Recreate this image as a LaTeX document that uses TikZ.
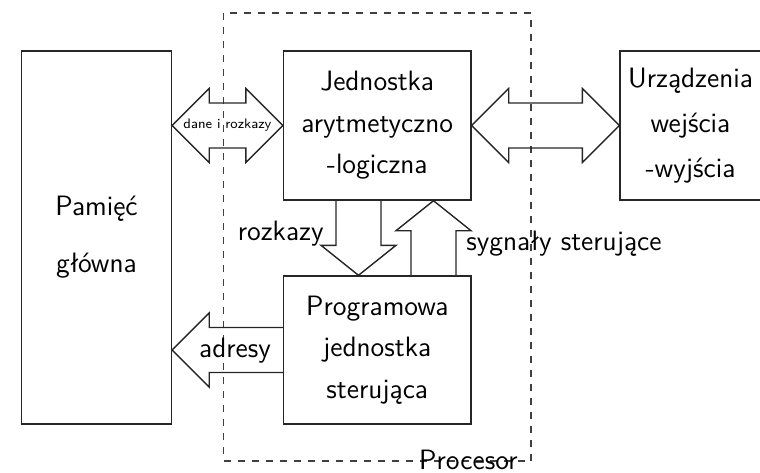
\documentclass[tikz,border=0pt]{standalone}
\usepackage{fontspec}
\usetikzlibrary{calc}

\tikzset{
  box/.style={draw, black!85, text=black, line width=0.7pt, align=center, inner sep=0pt},
  blk/.style={draw, black!85, line width=0.7pt, line join=miter},
  proc/.style={draw, black!75, line width=0.6pt, dash pattern=on 3.5pt off 3.5pt},
  lbl/.style={inner sep=0pt},
}

\begin{document}
\begin{tikzpicture}[x=0.5pt, y=-0.5pt, font=\sffamily\fontsize{14}{20.8}\selectfont]
    \useasboundingbox (0,0) rectangle (760,472);

    % bloki
    \node[box, minimum width=75pt, minimum height=186.5pt] (pam) at (96.5,237.5) {Pamięć\\[7.7pt]główna};
    \node[box, minimum width=93.75pt, minimum height=74.5pt] (alu) at (377.25,125.5) {Jednostka\\arytmetyczno\\-logiczna};
    \node[box, minimum width=93.75pt, minimum height=74pt] (ctl) at (377.25,350) {Programowa\\jednostka\\sterująca};
    \node[box, minimum width=70.5pt, minimum height=74.5pt] (io) at (690.5,125.5) {Urządzenia\\[1.7pt]wejścia\\[1.7pt]-wyjścia};

    \draw[proc] (223.5,13) rectangle (531,461);
    \node[lbl, anchor=base east] (procl) at (518,469.5) {Procesor};

    % dane i rozkazy
    \coordinate (d1) at (pam.east |- alu.west);
    \draw[blk] (d1) -- ($(d1)+(37,-37)$) -- ($(d1)+(37,-22.5)$) -- ($(alu.west)+(-37,-22.5)$) -- ($(alu.west)+(-37,-37)$) -- (alu.west)
        -- ($(alu.west)+(-37,37)$) -- ($(alu.west)+(-37,22.5)$) -- ($(d1)+(37,22.5)$) -- ($(d1)+(37,37)$) -- cycle;
    \node[lbl, font=\sffamily\fontsize{6.9}{8}\selectfont] (dane) at ($(d1)!0.5!(alu.west)$) {dane i rozkazy};

    % we/wy
    \draw[blk] (alu.east) -- ($(alu.east)+(37,-37)$) -- ($(alu.east)+(37,-22.5)$) -- ($(io.west)+(-37,-22.5)$) -- ($(io.west)+(-37,-37)$) -- (io.west)
        -- ($(io.west)+(-37,37)$) -- ($(io.west)+(-37,22.5)$) -- ($(alu.east)+(37,22.5)$) -- ($(alu.east)+(37,37)$) -- cycle;

    % rozkazy
    \coordinate (r1) at ($(alu.south)+(-18.75,0)$);
    \coordinate (r2) at (r1 |- ctl.north);
    \draw[blk] ($(r1)+(-22.5,0)$) -- ($(r2)+(-22.5,-30)$) -- ($(r2)+(-37.5,-30)$) -- (r2)
        -- ($(r2)+(37.5,-30)$) -- ($(r2)+(22.5,-30)$) -- ($(r1)+(22.5,0)$);
    \node[lbl, anchor=base east] (rozk) at (324,240) {rozkazy};

    % sygnaly sterujace
    \coordinate (s1) at ($(alu.south)+(56.25,0)$);
    \coordinate (s2) at (s1 |- ctl.north);
    \draw[blk] ($(s2)+(-22.5,0)$) -- ($(s1)+(-22.5,30)$) -- ($(s1)+(-37.5,30)$) -- (s1)
        -- ($(s1)+(37.5,30)$) -- ($(s1)+(22.5,30)$) -- ($(s2)+(22.5,0)$);
    \node[lbl, anchor=base west] (syg) at (466,250) {sygnały sterujące};

    % adresy
    \coordinate (a1) at (pam.east |- ctl.west);
    \draw[blk] ($(ctl.west)+(0,-22.5)$) -- ($(a1)+(37,-22.5)$) -- ($(a1)+(37,-37)$) -- (a1)
        -- ($(a1)+(37,37)$) -- ($(a1)+(37,22.5)$) -- ($(ctl.west)+(0,22.5)$);
    \node[lbl, anchor=base] (adr) at (235,357) {adresy};
\end{tikzpicture}
\end{document}
